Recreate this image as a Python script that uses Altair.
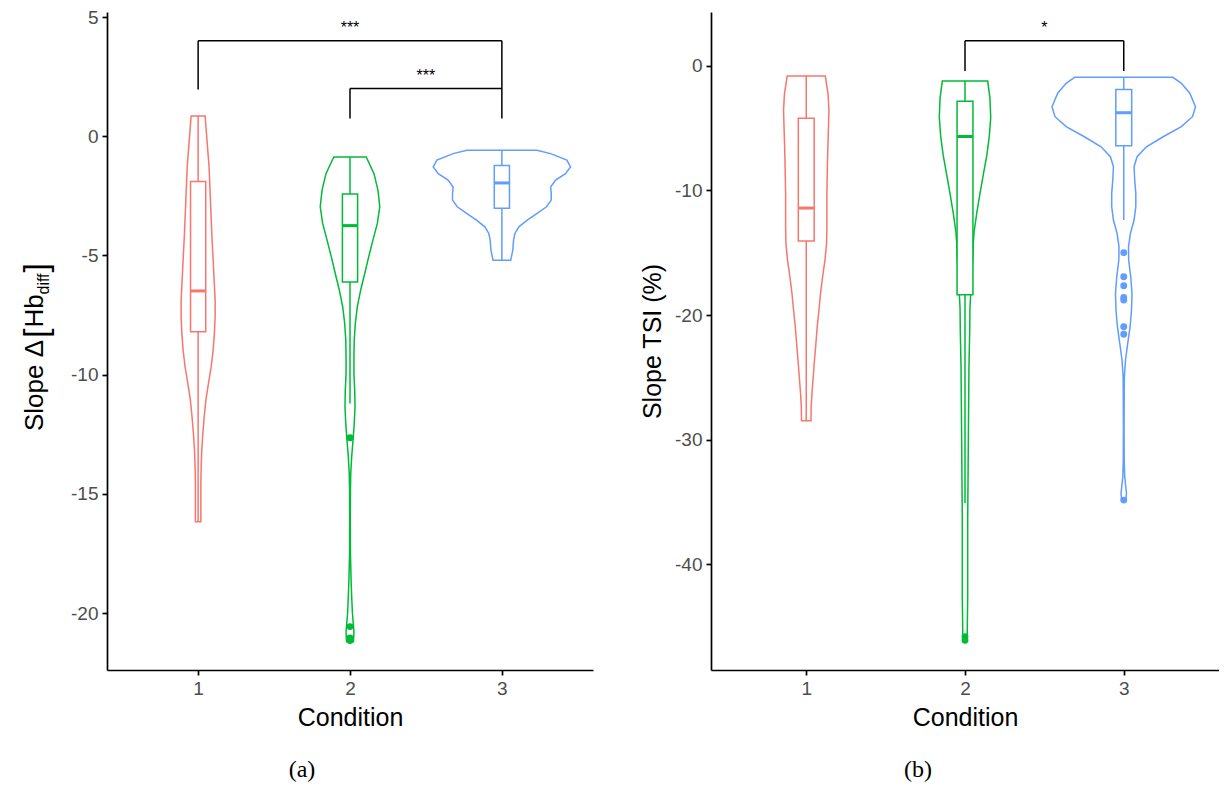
import altair as alt
import pandas as pd

CONDITIONS = ["1", "2", "3"]
COLORS = ["#F8766D", "#00BA38", "#619CFF"]

# ---------------- panel (a): Slope Δ[Hb_diff] ----------------
A_VIOLIN_Y = [
    [0.85, 0.11, -1.29, -2.68, -4.08, -5.48, -6.88, -7.58, -8.27, -8.97, -9.67,
     -10.37, -11.07, -11.77, -12.47, -13.17, -13.87, -14.57, -16.17],
    [-0.87, -1.57, -2.26, -2.96, -3.66, -4.36, -5.06, -5.76, -6.46, -7.16, -7.85,
     -8.55, -9.25, -9.95, -10.65, -11.35, -12.05, -12.75, -13.45, -14.14, -14.84,
     -16.0, -17.5, -18.6, -19.3, -20.0, -20.8, -21.2],
    [-0.59, -0.73, -1.0, -1.29, -1.57, -1.84, -2.13, -2.40, -2.68, -2.96, -3.24,
     -3.52, -3.80, -4.08, -4.36, -4.78, -5.2],
]
A_VIOLIN_HALFWIDTH = [
    [0.046, 0.055, 0.072, 0.081, 0.090, 0.101, 0.112, 0.112, 0.107, 0.099, 0.086,
     0.068, 0.051, 0.040, 0.031, 0.024, 0.020, 0.018, 0.018],
    [0.107, 0.158, 0.184, 0.196, 0.180, 0.151, 0.123, 0.097, 0.070, 0.048, 0.035,
     0.028, 0.026, 0.026, 0.031, 0.033, 0.028, 0.020, 0.011, 0.005, 0.003,
     0.002, 0.003, 0.007, 0.011, 0.016, 0.026, 0.023],
    [0.230, 0.321, 0.428, 0.452, 0.419, 0.354, 0.321, 0.325, 0.325, 0.294, 0.232,
     0.167, 0.112, 0.086, 0.077, 0.072, 0.058],
]
A_Q1 = [-8.20, -6.12, -3.02]
A_MEDIAN = [-6.49, -3.75, -1.96]
A_Q3 = [-1.90, -2.42, -1.23]
A_WHISK_LO = [-16.17, -11.21, -5.20]
A_WHISK_HI = [0.85, -0.87, -0.59]
A_OUT_COND = ["2", "2", "2", "2"]
A_OUT_VALUE = [-12.65, -20.57, -21.05, -21.15]
A_BR_X1 = [1, 1, 3, 2, 2]
A_BR_Y1 = [1.96, 4.0, 4.0, 0.74, 2.0]
A_BR_X2 = [1, 3, 3, 2, 3]
A_BR_Y2 = [4.0, 4.0, 0.74, 2.0, 2.0]
A_SIG_X = [2, 2.5]
A_SIG_Y = [4.0, 2.0]
A_SIG_TEXT = ["***", "***"]
A_Y_DOMAIN = [-22.39, 5.21]
A_Y_TICKS = [5, 0, -5, -10, -15, -20]
A_TITLE_PARTS = ["Slope Δ", "[", "Hb", "diff", "]"]

# ---------------- panel (b): Slope TSI (%) ----------------
B_VIOLIN_Y = [
    [-0.83, -2.21, -3.55, -4.89, -7.57, -10.24, -12.92, -14.25, -15.59, -16.93,
     -18.26, -19.6, -20.94, -22.27, -23.61, -24.95, -26.28, -27.36, -28.48],
    [-1.23, -2.6, -4.15, -5.68, -7.22, -8.75, -10.29, -11.82, -13.36, -14.28,
     -15.5, -17.0, -19.5, -21.03, -24.1, -27.17, -30.24, -33.3, -36.38, -39.45,
     -42.53, -45.6, -46.1],
    [-0.93, -1.41, -2.21, -3.29, -4.09, -4.89, -5.70, -6.50, -7.30, -8.10, -9.17,
     -10.24, -11.31, -12.38, -13.45, -14.52, -15.59, -16.93, -18.26, -19.6,
     -20.94, -22.27, -23.61, -24.95, -26.3, -29.0, -31.7, -32.97, -34.3, -34.9],
]
B_VIOLIN_HALFWIDTH = [
    [0.120, 0.137, 0.143, 0.140, 0.134, 0.130, 0.130, 0.128, 0.118, 0.103,
     0.090, 0.080, 0.069, 0.061, 0.052, 0.044, 0.036, 0.031, 0.030],
    [0.143, 0.157, 0.162, 0.153, 0.137, 0.115, 0.094, 0.074, 0.057, 0.052,
     0.049, 0.041, 0.031, 0.030, 0.025, 0.023, 0.021, 0.019, 0.017, 0.017,
     0.017, 0.014, 0.014],
    [0.310, 0.363, 0.416, 0.452, 0.433, 0.363, 0.248, 0.143, 0.084, 0.065, 0.069,
     0.076, 0.076, 0.065, 0.042, 0.030, 0.031, 0.044, 0.052, 0.049,
     0.040, 0.025, 0.011, 0.004, 0.003, 0.002, 0.003, 0.006, 0.017, 0.013],
]
B_Q1 = [-14.06, -18.37, -6.42]
B_MEDIAN = [-11.42, -5.68, -3.77]
B_Q3 = [-4.22, -2.86, -1.90]
B_WHISK_LO = [-28.48, -35.1, -12.38]
B_WHISK_HI = [-0.83, -1.23, -0.93]
B_OUT_COND = ["2", "2", "3", "3", "3", "3", "3", "3", "3", "3"]
B_OUT_VALUE = [-45.8, -46.1, -15.0, -16.93, -17.65, -18.6, -18.8, -20.94, -21.55, -34.85]
B_BR_X1 = [2, 2, 3]
B_BR_Y1 = [-0.43, 2.0, 2.0]
B_BR_X2 = [2, 3, 3]
B_BR_Y2 = [2.0, 2.0, -0.43]
B_SIG_X = [2.5]
B_SIG_Y = [2.0]
B_SIG_TEXT = ["*"]
B_Y_DOMAIN = [-48.48, 4.31]
B_Y_TICKS = [0, -10, -20, -30, -40]

X_TICKS = [1, 2, 3]
BOX_HALF = 0.05
FONT = "Liberation Sans"
PLOT_H = 658
LW = 1.5
COLOR_SCALE = alt.Scale(domain=CONDITIONS, range=COLORS)
LABEL_EXPR = "'' + datum.value"


def build_panel(vy, vhw, q1, med, q3, wlo, whi, oc, ov, bx1, by1, bx2, by2,
                sx, sy, st, ydom, yticks, width, ytitle, caption, caption_x):
    xs = alt.Scale(domain=[0.4, 3.6], nice=False, zero=False)
    ys = alt.Scale(domain=ydom, nice=False, zero=False)
    xaxis = alt.Axis(values=X_TICKS, title="Condition", labelExpr=LABEL_EXPR,
                     labelPadding=4, titlePadding=7)
    if ytitle is None:
        yaxis = alt.Axis(values=yticks, title=None, labelExpr=LABEL_EXPR, labelPadding=4)
    else:
        yaxis = alt.Axis(values=yticks, title=ytitle, labelExpr=LABEL_EXPR,
                         labelPadding=4, titlePadding=9)

    vrows = []
    for i, c in enumerate(CONDITIONS):
        for y, h in zip(vy[i], vhw[i]):
            vrows.append(dict(cond=c, y=y, lo=i + 1 - h, hi=i + 1 + h))
    vdf = pd.DataFrame(vrows)

    bdf = pd.DataFrame(dict(
        cond=CONDITIONS, pos=[1, 2, 3],
        lo=[p - BOX_HALF for p in (1, 2, 3)], hi=[p + BOX_HALF for p in (1, 2, 3)],
        q1=q1, med=med, q3=q3, wlo=wlo, whi=whi))
    odf = pd.DataFrame(dict(cond=oc, pos=[float(c) for c in oc], val=ov))
    brdf = pd.DataFrame(dict(x1=bx1, y1=by1, x2=bx2, y2=by2))
    sdf = pd.DataFrame(dict(x=sx, y=sy, t=st))

    stroke = alt.Stroke("cond:N", scale=COLOR_SCALE, legend=None)
    color = alt.Color("cond:N", scale=COLOR_SCALE, legend=None)

    violin = alt.Chart(vdf).mark_area(orient="horizontal", fill="white", strokeWidth=LW).encode(
        y=alt.Y("y:Q", scale=ys, axis=yaxis),
        x=alt.X("lo:Q", scale=xs, axis=xaxis, stack=None),
        x2="hi:Q",
        stroke=stroke,
        detail="cond:N",
    )
    base = alt.Chart(bdf)
    wh_top = base.mark_rule(strokeWidth=LW).encode(
        x=alt.X("pos:Q", scale=xs), y=alt.Y("q3:Q", scale=ys), y2="whi:Q", color=color)
    wh_bot = base.mark_rule(strokeWidth=LW).encode(
        x=alt.X("pos:Q", scale=xs), y=alt.Y("wlo:Q", scale=ys), y2="q1:Q", color=color)
    box = base.mark_rect(fill="white", strokeWidth=LW).encode(
        x=alt.X("lo:Q", scale=xs), x2="hi:Q", y=alt.Y("q1:Q", scale=ys), y2="q3:Q", stroke=stroke)
    median = base.mark_rule(strokeWidth=3).encode(
        x=alt.X("lo:Q", scale=xs), x2="hi:Q", y=alt.Y("med:Q", scale=ys), color=color)
    outl = alt.Chart(odf).mark_circle(size=48, opacity=1).encode(
        x=alt.X("pos:Q", scale=xs), y=alt.Y("val:Q", scale=ys), color=color)
    brk = alt.Chart(brdf).mark_rule(color="black", strokeWidth=1.5).encode(
        x=alt.X("x1:Q", scale=xs), y=alt.Y("y1:Q", scale=ys), x2="x2:Q", y2="y2:Q")
    stars = alt.Chart(sdf).mark_text(fontSize=16, dy=-8, baseline="alphabetic",
                                     font=FONT, color="black").encode(
        x=alt.X("x:Q", scale=xs), y=alt.Y("y:Q", scale=ys), text="t:N")
    cap = alt.Chart(pd.DataFrame(dict(t=[caption]))).mark_text(
        font="Liberation Serif", fontSize=24, baseline="middle", color="black").encode(
        text="t:N", x=alt.value(caption_x), y=alt.value(758))

    layers = [violin, wh_top, wh_bot, box, median, outl, brk, stars, cap]
    return alt.layer(*layers).properties(width=width, height=PLOT_H)


panel_a = build_panel(A_VIOLIN_Y, A_VIOLIN_HALFWIDTH, A_Q1, A_MEDIAN, A_Q3, A_WHISK_LO,
                      A_WHISK_HI, A_OUT_COND, A_OUT_VALUE, A_BR_X1, A_BR_Y1, A_BR_X2,
                      A_BR_Y2, A_SIG_X, A_SIG_Y, A_SIG_TEXT, A_Y_DOMAIN, A_Y_TICKS,
                      486, None, "(a)", 195)

# composed y-axis title of panel (a): Slope Δ[Hb_diff]
title_specs = [
    (A_TITLE_PARTS[0], 26, 419, -64),
    (A_TITLE_PARTS[1], 34, 326, -60),
    (A_TITLE_PARTS[2], 26, 315.5, -64),
    (A_TITLE_PARTS[3], 16, 282.5, -58),
    (A_TITLE_PARTS[4], 34, 260.5, -60),
]
title_layers = []
for txt, fs, ypos, xpos in title_specs:
    title_layers.append(
        alt.Chart(pd.DataFrame(dict(t=[txt]))).mark_text(
            font=FONT, fontSize=fs, angle=270, align="left", baseline="alphabetic",
            color="black").encode(text="t:N", x=alt.value(xpos), y=alt.value(ypos)))
panel_a = alt.layer(panel_a, *title_layers)

panel_b = build_panel(B_VIOLIN_Y, B_VIOLIN_HALFWIDTH, B_Q1, B_MEDIAN, B_Q3, B_WHISK_LO,
                      B_WHISK_HI, B_OUT_COND, B_OUT_VALUE, B_BR_X1, B_BR_Y1, B_BR_X2,
                      B_BR_Y2, B_SIG_X, B_SIG_Y, B_SIG_TEXT, B_Y_DOMAIN, B_Y_TICKS,
                      508, "Slope TSI (%)", "(b)", 207)

chart = alt.hconcat(panel_a, panel_b, spacing=118, bounds="flush").properties(
    padding={"left": 12, "top": 0, "right": 0, "bottom": 0}
).configure_view(stroke=None).configure_axis(
    grid=False, domainColor="black", domainWidth=1.7, tickColor="black",
    tickWidth=1.7, tickSize=5, labelColor="#4D4D4D", labelFontSize=19,
    labelFont=FONT, titleFont=FONT, titleFontSize=25, titleFontWeight="normal",
    titleColor="black",
)

chart.save("out.html", embed_options={"renderer": "svg", "actions": False})
